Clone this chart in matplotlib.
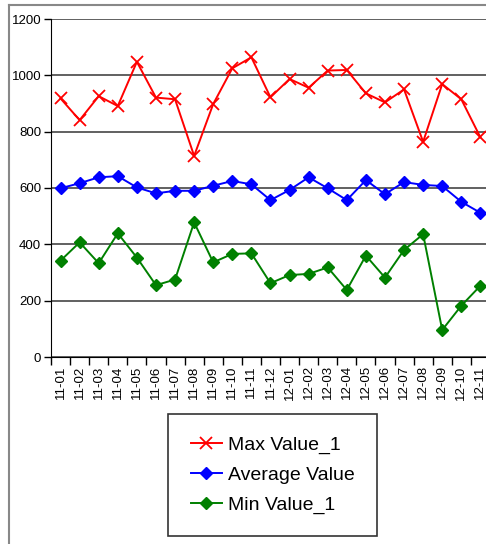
import matplotlib.pyplot as plt
from matplotlib.lines import Line2D

plt.rcParams['font.family'] = ['Liberation Sans', 'DejaVu Sans']

months = ['11-01', '11-02', '11-03', '11-04', '11-05', '11-06', '11-07', '11-08',
          '11-09', '11-10', '11-11', '11-12', '12-01', '12-02', '12-03', '12-04',
          '12-05', '12-06', '12-07', '12-08', '12-09', '12-10', '12-11']
max_value = [918, 841, 926, 891, 1048, 921, 915, 714, 898, 1025, 1064, 922,
             987, 956, 1017, 1019, 936, 904, 950, 764, 969, 915, 780]
avg_value = [599, 617, 638, 642, 602, 581, 590, 590, 608, 625, 613, 557,
             593, 638, 599, 557, 628, 578, 621, 611, 607, 551, 512]
min_value = [342, 407, 333, 439, 353, 255, 275, 478, 336, 366, 368, 262,
             291, 295, 318, 238, 360, 282, 380, 436, 96, 182, 253]
yticks = [0, 200, 400, 600, 800, 1000, 1200]

fig = plt.figure(figsize=(4.86, 5.44), dpi=100)

# outer chart frame (cropped, only left and top edges visible)
fig.add_artist(Line2D([9/486, 9/486], [0, 1 - 5/544], color='#888888', lw=1.5))
fig.add_artist(Line2D([9/486, 1], [1 - 5/544, 1 - 5/544], color='#888888', lw=1.5))

ax = fig.add_axes([51/486, 187/544, 458/486, 338/544])
x = list(range(len(months)))

ax.plot(x, max_value, color='#ff0000', marker='x', markersize=9, mew=1.3, lw=1.4,
        label='Max Value_1')
ax.plot(x, avg_value, color='#0000ff', marker='D', markersize=6.5, lw=1.4,
        label='Average Value')
ax.plot(x, min_value, color='#008000', marker='D', markersize=6.5, lw=1.4,
        label='Min Value_1')

ax.set_ylim(0, 1200)
ax.set_xlim(-0.5, 23.5)
ax.set_yticks(yticks)
ax.tick_params(axis='y', labelsize=9.5, length=5, width=1, pad=2)
ax.yaxis.grid(True, color='#606060', lw=1.4)
ax.set_axisbelow(True)

ax.set_xticks(x)
ax.set_xticklabels(months, rotation=90, fontsize=9.5)
ax.tick_params(axis='x', length=0, pad=6)
ax.set_xticks([i - 0.5 for i in range(25)], minor=True)
ax.tick_params(axis='x', which='minor', length=6, width=1)

for s in ['top', 'right']:
    ax.spines[s].set_visible(False)
ax.spines['left'].set_color('black')
ax.spines['bottom'].set_color('black')

leg = fig.legend(loc='center', bbox_to_anchor=(272.5/486, 1 - 475/544),
                 fontsize=14, frameon=True, fancybox=False, edgecolor='black',
                 handlelength=1.6, handletextpad=0.3, labelspacing=0.62,
                 borderpad=1.15, borderaxespad=0)
leg.get_frame().set_linewidth(1.2)

fig.savefig('out.png', dpi=100)
